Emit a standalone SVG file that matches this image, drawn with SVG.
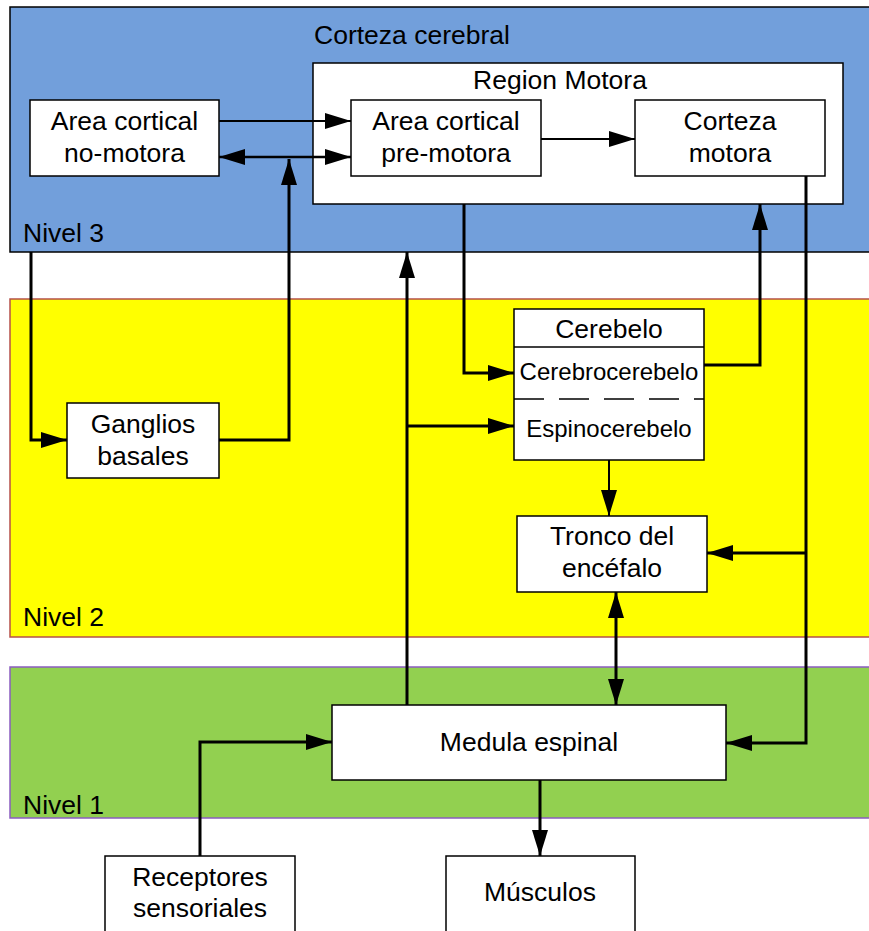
<svg xmlns="http://www.w3.org/2000/svg" width="869" height="931" viewBox="0 0 869 931">
<style>
text{font-family:"Liberation Sans",Arial,sans-serif;font-size:26.5px;fill:#000}
.c{text-anchor:middle}
.sm{font-size:24px}
.box{fill:#fff;stroke:#000;stroke-width:1.5}
.w{fill:none;stroke:#000;stroke-width:3}
.t{fill:none;stroke:#000;stroke-width:2}
</style>
<defs>
<marker id="a" markerUnits="userSpaceOnUse" markerWidth="28" markerHeight="18" refX="26" refY="8" orient="auto-start-reverse" viewBox="0 0 28 18">
<path d="M0,0 L26,8 L0,16 z" fill="#000"/>
</marker>
</defs>
<g id="bands">
<rect x="10" y="7" width="880" height="245" fill="#729fdb" stroke="#000" stroke-width="1.5"/>
<rect x="10" y="299" width="880" height="338" fill="#ffff00" stroke="#b5504a" stroke-width="1.5"/>
<rect x="10" y="667" width="880" height="151" fill="#92d050" stroke="#8a5cc0" stroke-width="1.5"/>
<text x="314" y="44">Corteza cerebral</text>
<text x="23" y="242">Nivel 3</text>
<text x="23" y="626">Nivel 2</text>
<text x="23" y="814">Nivel 1</text>
</g>
<g id="region-motora">
<rect class="box" x="313" y="63" width="530" height="141"/>
<text class="c" x="560" y="89">Region Motora</text>
</g>
<g id="no-motora">
<rect class="box" x="30" y="100" width="189" height="76"/>
<text class="c" x="124.5" y="130">Area cortical</text>
<text class="c" x="124.5" y="162">no-motora</text>
</g>
<g id="pre-motora">
<rect class="box" x="351" y="100" width="190" height="76"/>
<text class="c" x="446" y="130">Area cortical</text>
<text class="c" x="446" y="162">pre-motora</text>
</g>
<g id="corteza-motora">
<rect class="box" x="635" y="100" width="190" height="76"/>
<text class="c" x="730" y="130">Corteza</text>
<text class="c" x="730" y="162">motora</text>
</g>
<g id="ganglios">
<rect class="box" x="67" y="403" width="152" height="75"/>
<text class="c" x="143" y="433">Ganglios</text>
<text class="c" x="143" y="465">basales</text>
</g>
<g id="cerebelo">
<rect class="box" x="514" y="309" width="190" height="151"/>
<line x1="514" y1="347" x2="704" y2="347" stroke="#000" stroke-width="1.5"/>
<line x1="514" y1="399" x2="704" y2="399" stroke="#000" stroke-width="1.5" stroke-dasharray="30 15"/>
<text class="c" x="609" y="338">Cerebelo</text>
<text class="c sm" x="609" y="380">Cerebrocerebelo</text>
<text class="c sm" x="609" y="437">Espinocerebelo</text>
</g>
<g id="tronco">
<rect class="box" x="517" y="516" width="190" height="76"/>
<text class="c" x="612" y="545">Tronco del</text>
<text class="c" x="612" y="577">encéfalo</text>
</g>
<g id="medula">
<rect class="box" x="332" y="705" width="394" height="75"/>
<text class="c" x="529" y="751">Medula espinal</text>
</g>
<g id="receptores">
<rect class="box" x="105" y="856" width="190" height="90"/>
<text class="c" x="200" y="886">Receptores</text>
<text class="c" x="200" y="917">sensoriales</text>
</g>
<g id="musculos">
<rect class="box" x="446" y="856" width="189" height="90"/>
<text class="c" x="540" y="901">Músculos</text>
</g>
<g id="connectors">
<path class="t" d="M219,121 H351" marker-end="url(#a)"/>
<path class="t" d="M219,157 H351" marker-start="url(#a)" marker-end="url(#a)" style="stroke-width:2.5"/>
<path class="w" d="M219,440 H289 V159" marker-end="url(#a)"/>
<path class="w" d="M31,252 V440 H67" marker-end="url(#a)"/>
<path class="w" d="M464,204 V373 H514" marker-end="url(#a)"/>
<path class="w" d="M704,365 H760 V204" marker-end="url(#a)"/>
<path class="w" d="M806,176 V743 H726" marker-end="url(#a)"/>
<path class="w" d="M806,553 H707" marker-end="url(#a)"/>
<path class="w" d="M407,705 V252" marker-end="url(#a)"/>
<path class="w" d="M407,426 H514" marker-end="url(#a)"/>
<path class="t" d="M609,460 V516" marker-end="url(#a)"/>
<path class="w" d="M616,592 V705" marker-start="url(#a)" marker-end="url(#a)"/>
<path class="w" d="M200,856 V742 H332" marker-end="url(#a)"/>
<path class="w" d="M540,780 V856" marker-end="url(#a)"/>
<path class="t" d="M541,139 H635" marker-end="url(#a)"/>
</g>
</svg>
